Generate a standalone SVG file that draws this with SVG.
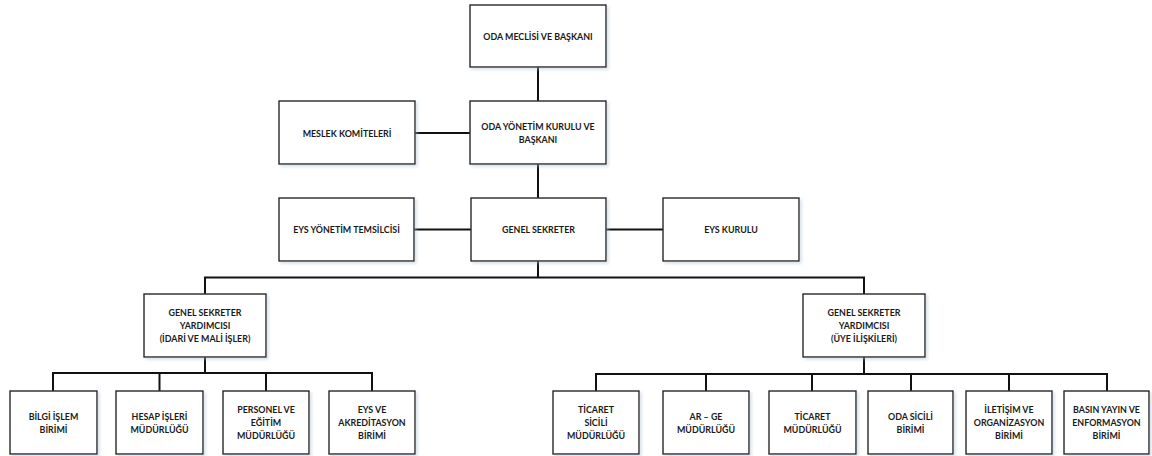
<svg xmlns="http://www.w3.org/2000/svg" width="1152" height="456" viewBox="0 0 1152 456">
<style>
.box{fill:#ffffff;stroke:#262626;stroke-width:1.4;filter:url(#sh)}
.t{font-family:Lato,"Noto Sans","Liberation Sans",sans-serif;font-weight:bold;font-size:8.9px;fill:#1a1a1a;text-anchor:middle;dominant-baseline:central}
.c{stroke:#111111;stroke-width:2;fill:none}
</style>
<defs>
<filter id="sh" x="-10%" y="-10%" width="125%" height="130%">
<feDropShadow dx="2" dy="2" stdDeviation="1.5" flood-color="#a8bcd0" flood-opacity="0.45"/>
</filter>
</defs>
<rect width="1152" height="456" fill="#ffffff"/>
<g id="connectors">
<path class="c" d="M538 67V101"/>
<path class="c" d="M415 133H470"/>
<path class="c" d="M538 164V198"/>
<path class="c" d="M414 229.5H471M606 229.5H663"/>
<path class="c" d="M538 261V277.5"/>
<path class="c" d="M205 294V277.5H864V294"/>
<path class="c" d="M205 357V373"/>
<path class="c" d="M53 391V373H372V391M159.5 373V391M266 373V391"/>
<path class="c" d="M864 357V374"/>
<path class="c" d="M596 391V374H1107V391M706 374V391M812 374V391M911 374V391M1009 374V391"/>
</g>
<g id="n-meclis"><rect class="box" x="470" y="5" width="136" height="62"/><text class="t" x="538" y="36">ODA MECLİSİ VE BAŞKANI</text></g>
<g id="n-yk"><rect class="box" x="470" y="101" width="136" height="63"/><text class="t" x="538" y="126.5">ODA YÖNETİM KURULU VE</text><text class="t" x="538" y="139.5">BAŞKANI</text></g>
<g id="n-meslek"><rect class="box" x="279" y="101" width="136" height="63"/><text class="t" x="347" y="133">MESLEK KOMİTELERİ</text></g>
<g id="n-eysyt"><rect class="box" x="279" y="198" width="135" height="63"/><text class="t" x="346.5" y="229.5">EYS YÖNETİM TEMSİLCİSİ</text></g>
<g id="n-gs"><rect class="box" x="471" y="198" width="135" height="63"/><text class="t" x="538.5" y="229.5">GENEL SEKRETER</text></g>
<g id="n-eysk"><rect class="box" x="663" y="198" width="136" height="63"/><text class="t" x="731" y="229.5">EYS KURULU</text></g>
<g id="n-gsy1"><rect class="box" x="144" y="294" width="122" height="63"/><text class="t" x="205" y="312.5">GENEL SEKRETER</text><text class="t" x="205" y="325.5">YARDIMCISI</text><text class="t" x="205" y="338.5">(İDARİ VE MALİ İŞLER)</text></g>
<g id="n-gsy2"><rect class="box" x="803" y="294" width="122" height="63"/><text class="t" x="864" y="312.5">GENEL SEKRETER</text><text class="t" x="864" y="325.5">YARDIMCISI</text><text class="t" x="864" y="338.5">(ÜYE İLİŞKİLERİ)</text></g>
<g id="n-bilgi"><rect class="box" x="10" y="391" width="87" height="63"/><text class="t" x="53.5" y="416">BİLGİ İŞLEM</text><text class="t" x="53.5" y="429">BİRİMİ</text></g>
<g id="n-hesap"><rect class="box" x="116" y="391" width="87" height="63"/><text class="t" x="159.5" y="416">HESAP İŞLERİ</text><text class="t" x="159.5" y="429">MÜDÜRLÜĞÜ</text></g>
<g id="n-personel"><rect class="box" x="223" y="391" width="86" height="63"/><text class="t" x="266" y="409.5">PERSONEL VE</text><text class="t" x="266" y="422.5">EĞİTİM</text><text class="t" x="266" y="435.5">MÜDÜRLÜĞÜ</text></g>
<g id="n-akr"><rect class="box" x="329" y="391" width="86" height="63"/><text class="t" x="372" y="409.5">EYS VE</text><text class="t" x="372" y="422.5">AKREDİTASYON</text><text class="t" x="372" y="435.5">BİRİMİ</text></g>
<g id="n-ticsicil"><rect class="box" x="553" y="391" width="86" height="63"/><text class="t" x="596" y="409.5">TİCARET</text><text class="t" x="596" y="422.5">SİCİLİ</text><text class="t" x="596" y="435.5">MÜDÜRLÜĞÜ</text></g>
<g id="n-arge"><rect class="box" x="663" y="391" width="86" height="63"/><text class="t" x="706" y="416">AR – GE</text><text class="t" x="706" y="429">MÜDÜRLÜĞÜ</text></g>
<g id="n-ticaret"><rect class="box" x="769" y="391" width="87" height="63"/><text class="t" x="812.5" y="416">TİCARET</text><text class="t" x="812.5" y="429">MÜDÜRLÜĞÜ</text></g>
<g id="n-odasicil"><rect class="box" x="868" y="391" width="85" height="63"/><text class="t" x="910.5" y="416">ODA SİCİLİ</text><text class="t" x="910.5" y="429">BİRİMİ</text></g>
<g id="n-iletisim"><rect class="box" x="966" y="391" width="86" height="63"/><text class="t" x="1009" y="409.5">İLETİŞİM VE</text><text class="t" x="1009" y="422.5">ORGANİZASYON</text><text class="t" x="1009" y="435.5">BİRİMİ</text></g>
<g id="n-basin"><rect class="box" x="1064" y="391" width="85" height="63"/><text class="t" x="1106.5" y="409.5">BASIN YAYIN VE</text><text class="t" x="1106.5" y="422.5">ENFORMASYON</text><text class="t" x="1106.5" y="435.5">BİRİMİ</text></g>
</svg>
